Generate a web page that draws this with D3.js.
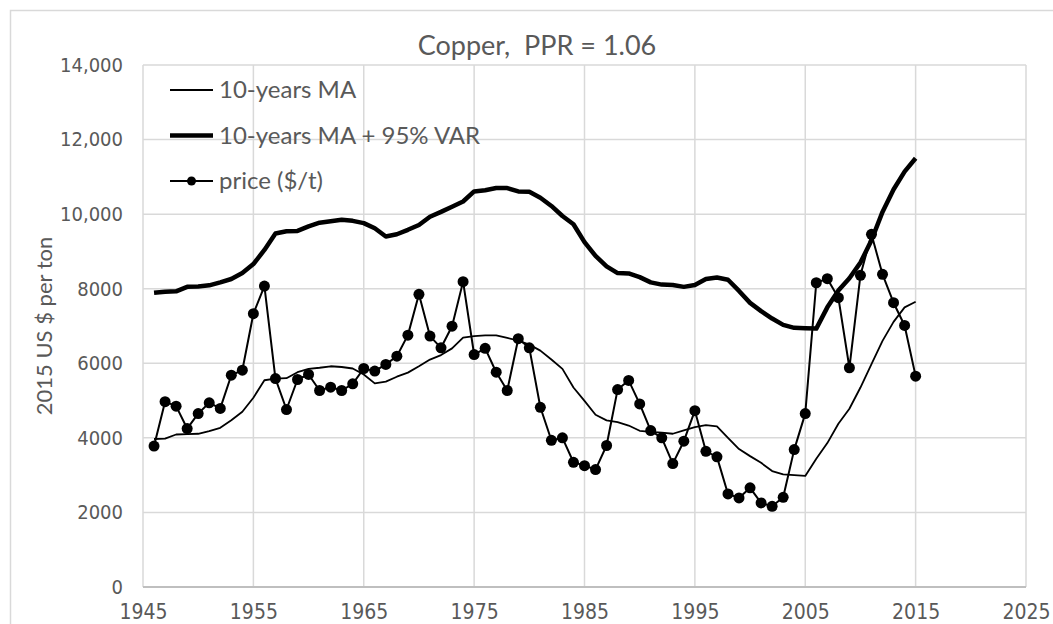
<!DOCTYPE html>
<html>
<head>
<meta charset="utf-8">
<script src="https://cdn.jsdelivr.net/npm/d3@7"></script>
<style>
    body { margin: 0; background: #fff; }
    svg { display: block; }
</style>
</head>
<body>
<div id="chart"></div>
<script>
const years = [1946, 1947, 1948, 1949, 1950, 1951, 1952, 1953, 1954, 1955,
    1956, 1957, 1958, 1959, 1960, 1961, 1962, 1963, 1964, 1965,
    1966, 1967, 1968, 1969, 1970, 1971, 1972, 1973, 1974, 1975,
    1976, 1977, 1978, 1979, 1980, 1981, 1982, 1983, 1984, 1985,
    1986, 1987, 1988, 1989, 1990, 1991, 1992, 1993, 1994, 1995,
    1996, 1997, 1998, 1999, 2000, 2001, 2002, 2003, 2004, 2005,
    2006, 2007, 2008, 2009, 2010, 2011, 2012, 2013, 2014, 2015]

const price = [3780, 4970, 4850, 4250, 4650, 4940, 4790, 5680, 5815, 7330,
    8070, 5590, 4760, 5565, 5700, 5270, 5360, 5270, 5450, 5860,
    5790, 5970, 6190, 6755, 7850, 6730, 6415, 6995, 8190, 6235,
    6400, 5760, 5270, 6660, 6415, 4820, 3935, 4000, 3345, 3255,
    3150, 3795, 5295, 5540, 4910, 4195, 4000, 3310, 3910, 4730,
    3640, 3490, 2495, 2390, 2660, 2255, 2165, 2405, 3685, 4650,
    8160, 8270, 7760, 5880, 8360, 9460, 8385, 7625, 7015, 5655]

const ma10 = [3970, 3980, 4090, 4100, 4110, 4180, 4270, 4470, 4700, 5075,
    5545, 5590, 5600, 5760, 5850, 5880, 5920, 5900, 5860, 5700,
    5460, 5510, 5640, 5750, 5920, 6100, 6220, 6400, 6690, 6730,
    6750, 6750, 6680, 6610, 6500, 6340, 6100, 5850, 5350, 4990,
    4620, 4470, 4420, 4330, 4190, 4160, 4140, 4110, 4200, 4290,
    4340, 4310, 4000, 3700, 3510, 3330, 3110, 3020, 3000, 2980,
    3440, 3860, 4380, 4780, 5350, 5980, 6600, 7110, 7500, 7650]

const maVar = [7890, 7920, 7930, 8050, 8060, 8090, 8170, 8260, 8420, 8660,
    9040, 9480, 9540, 9550, 9670, 9770, 9810, 9850, 9820, 9760,
    9620, 9400, 9460, 9580, 9710, 9930, 10060, 10200, 10340, 10610,
    10640, 10700, 10700, 10610, 10600, 10440, 10220, 9950, 9730, 9250,
    8880, 8600, 8420, 8410, 8310, 8170, 8110, 8100, 8050, 8100,
    8260, 8300, 8240, 7940, 7620, 7400, 7200, 7030, 6950, 6940,
    6930, 7500, 7950, 8280, 8700, 9300, 10060, 10660, 11140, 11500]

const xTicks = [1945, 1955, 1965, 1975, 1985, 1995, 2005, 2015, 2025]
const yTicks = [0, 2000, 4000, 6000, 8000, 10000, 12000, 14000]
const legendNames = ['10-years MA', '10-years MA + 95% VAR', 'price ($/t)']
const title = 'Copper,  PPR = 1.06'
const yLabel = '2015 US $ per ton'

const W = 1053, H = 624
const plotL = 143, plotR = 1026, plotT = 65, plotB = 587
const textColor = '#595959'
const labelFont = '"Liberation Sans Narrow", "DejaVu Sans Condensed", sans-serif'
const mainFont = 'Lato, "Open Sans", sans-serif'

const svg = d3.select('#chart').append('svg')
    .attr('width', W)
    .attr('height', H)

// chart area border (only top and left are inside the picture)
svg.append('rect')
    .attr('x', 10.5).attr('y', 10.5)
    .attr('width', W + 50).attr('height', H + 50)
    .attr('fill', 'none')
    .attr('stroke', '#d9d9d9')
    .attr('stroke-width', 1.5)

const x = d3.scaleLinear().domain([1945, 2025]).range([plotL, plotR])
const y = d3.scaleLinear().domain([0, 14000]).range([plotB, plotT])

// gridlines
svg.append('g').selectAll('line').data(yTicks.slice(1))
    .enter().append('line')
    .attr('x1', plotL).attr('x2', plotR)
    .attr('y1', d => y(d)).attr('y2', d => y(d))
    .attr('stroke', '#d9d9d9').attr('stroke-width', 1.5)

svg.append('g').selectAll('line').data(xTicks)
    .enter().append('line')
    .attr('x1', d => x(d)).attr('x2', d => x(d))
    .attr('y1', plotT).attr('y2', plotB)
    .attr('stroke', '#d9d9d9').attr('stroke-width', 1.5)

// x axis baseline
svg.append('line')
    .attr('x1', plotL).attr('x2', plotR)
    .attr('y1', y(0)).attr('y2', y(0))
    .attr('stroke', '#bfbfbf').attr('stroke-width', 2)

const fmtY = d => d >= 10000 ? d3.format(',')(d) : d3.format('d')(d)

const yAxis = svg.append('g')
    .attr('transform', `translate(${plotL},0)`)
    .call(d3.axisLeft(y).tickValues(yTicks).tickFormat(fmtY).tickSize(0).tickPadding(20))
yAxis.select('.domain').remove()
yAxis.selectAll('text')
    .attr('fill', textColor)
    .style('font-family', labelFont)
    .style('font-size', '20px')

const xAxis = svg.append('g')
    .attr('transform', `translate(0,${plotB})`)
    .call(d3.axisBottom(x).tickValues(xTicks).tickFormat(d3.format('d')).tickSize(0).tickPadding(17))
xAxis.select('.domain').remove()
xAxis.selectAll('text')
    .attr('fill', textColor)
    .style('font-family', labelFont)
    .style('font-size', '21px')

// title and axis label
svg.append('text')
    .attr('x', 537).attr('y', 55)
    .attr('text-anchor', 'middle')
    .attr('fill', textColor)
    .style('font-family', mainFont)
    .style('font-size', '27px')
    .style('white-space', 'pre')
    .text(title)

svg.append('text')
    .attr('transform', 'translate(52,326) rotate(-90)')
    .attr('text-anchor', 'middle')
    .attr('fill', textColor)
    .style('font-family', mainFont)
    .style('font-size', '22px')
    .text(yLabel)

// series
const line = d3.line()
    .x((d, i) => x(years[i]))
    .y(d => y(d))

svg.append('path').datum(ma10)
    .attr('d', line)
    .attr('fill', 'none')
    .attr('stroke', '#000')
    .attr('stroke-width', 1.8)
    .attr('stroke-linejoin', 'round')

svg.append('path').datum(maVar)
    .attr('d', line)
    .attr('fill', 'none')
    .attr('stroke', '#000')
    .attr('stroke-width', 4.5)
    .attr('stroke-linejoin', 'round')

svg.append('path').datum(price)
    .attr('d', line)
    .attr('fill', 'none')
    .attr('stroke', '#000')
    .attr('stroke-width', 2)
    .attr('stroke-linejoin', 'round')

svg.append('g').selectAll('circle').data(price)
    .enter().append('circle')
    .attr('cx', (d, i) => x(years[i]))
    .attr('cy', d => y(d))
    .attr('r', 5.5)
    .attr('fill', '#000')

// legend
const legend = svg.append('g').selectAll('g').data(legendNames)
    .enter().append('g')
    .attr('transform', (d, i) => `translate(170,${90 + i * 45.5})`)

legend.append('line')
    .attr('x1', 0).attr('x2', 43)
    .attr('stroke', '#000')
    .attr('stroke-width', (d, i) => i == 1 ? 4.5 : 2)

legend.filter((d, i) => i == 2).append('circle')
    .attr('cx', 21.5).attr('r', 4.5).attr('fill', '#000')

legend.append('text')
    .attr('x', 49).attr('dy', '0.35em')
    .attr('fill', textColor)
    .style('font-family', mainFont)
    .style('font-size', '24px')
    .text(d => d)
</script>
</body>
</html>
